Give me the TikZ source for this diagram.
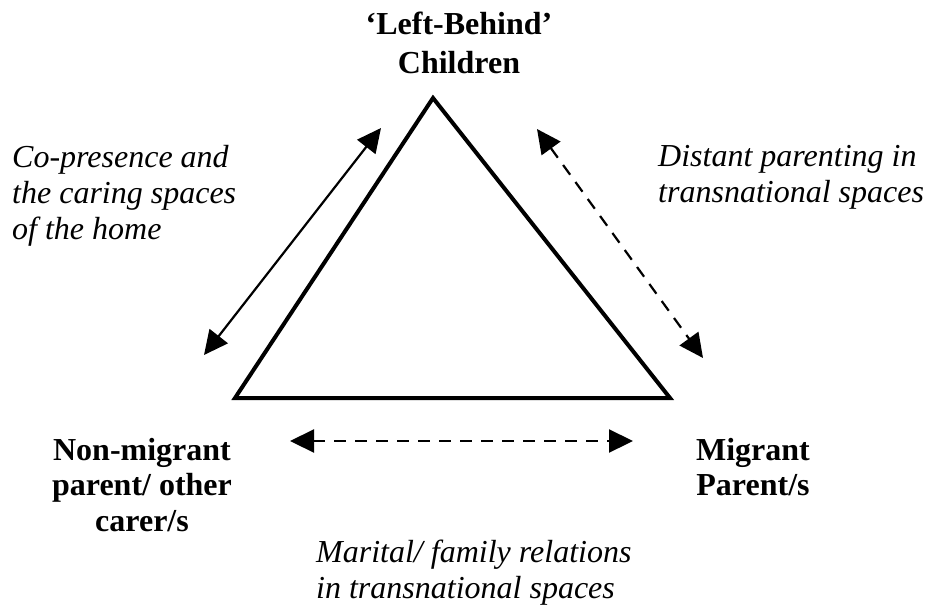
\documentclass[tikz,border=0pt]{standalone}
\usepackage{fontspec}
\setmainfont{Liberation Serif}
\usetikzlibrary{arrows.meta}
\begin{document}
\begin{tikzpicture}[x=1pt,y=-1pt,
  lbl/.style={inner sep=0pt, font=\fontsize{32}{36}\selectfont\itshape, align=left},
  bold/.style={inner sep=0pt, font=\fontsize{32}{35.5}\selectfont\bfseries, align=center},
  tri/.style={line width=4pt, line join=miter},
  rel/.style={line width=2.2pt, {Triangle[length=24pt,width=23pt]}-{Triangle[length=24pt,width=23pt]}},
  reldash/.style={rel, dash pattern=on 12pt off 9pt}]
\useasboundingbox (0,0) rectangle (925,608);
\coordinate (A) at (433,98);
\coordinate (B) at (235,398);
\coordinate (C) at (670,398);
\draw[tri] (A) -- (B) -- (C) -- cycle;
\coordinate (l1) at (204,355);
\coordinate (l2) at (381,128);
\coordinate (r1) at (537,129);
\coordinate (r2) at (703,358);
\coordinate (b1) at (290,441);
\coordinate (b2) at (633,441);
\draw[rel] (l1) -- (l2);
\draw[reldash] (r1) -- (r2);
\draw[reldash] (b1) -- (b2);
\node[bold, anchor=north, font=\fontsize{32}{39}\selectfont\bfseries] (top) at (459,12) {‘Left-Behind’\\Children};
\node[bold, anchor=north] (nm) at (142,438) {Non-migrant\\parent/ other\\carer/s};
\node[bold, anchor=north] (mp) at (753,438) {Migrant\\Parent/s};
\node[lbl, anchor=north west] (cp) at (12,145) {Co-presence and\\the caring spaces\\of the home};
\node[lbl, anchor=north west] (dp) at (658,145) {Distant parenting in\\transnational spaces};
\node[lbl, anchor=north west] (mf) at (316,540) {Marital/ family relations\\in transnational spaces};
\end{tikzpicture}
\end{document}
